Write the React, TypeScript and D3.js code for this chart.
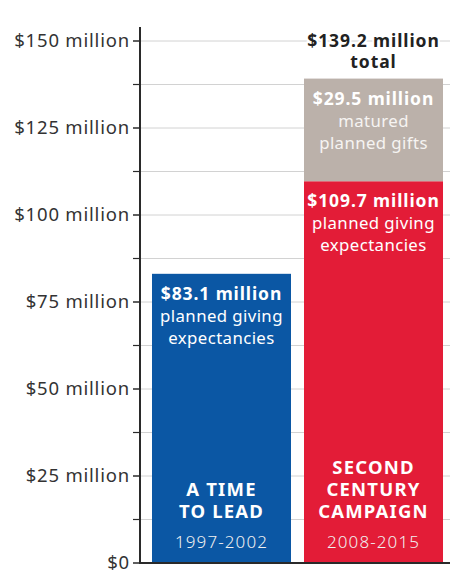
import * as d3 from 'd3';

// values as printed on the bars (millions of dollars)
const CAMPAIGNS = ['A TIME TO LEAD', 'SECOND CENTURY CAMPAIGN'];
const CAMPAIGN_LINES = [['A TIME', 'TO LEAD'], ['SECOND', 'CENTURY', 'CAMPAIGN']];
const YEARS = ['1997-2002', '2008-2015'];
const EXPECTANCIES = [83.1, 109.7];
const MATURED = [0, 29.5];
const TOTAL_LABEL = '$139.2 million';

const MAJOR_TICKS = [0, 25, 50, 75, 100, 125, 150];
const TICK_LABELS = ['$0', '$25 million', '$50 million', '$75 million', '$100 million', '$125 million', '$150 million'];
const MINOR_TICKS = [12.5, 37.5, 62.5, 87.5, 112.5, 137.5];

const EXP_COLORS = ['#0b57a4', '#e31c37'];
const MATURED_COLOR = '#bbb1aa';
const FONT = '"Noto Sans", Lato, sans-serif';

const W = 450;
const H = 572;
const AXIS_X = 140;
const BASE_Y = 563;

const fmt = (v: number) => `$${v.toFixed(1)} million`;

export default function App() {
  const y = d3.scaleLinear().domain([0, 150]).range([BASE_Y, 41]);
  const x = d3.scaleBand<string>()
    .domain(CAMPAIGNS)
    .range([AXIS_X - 1, 456])
    .paddingInner(0.0855)
    .paddingOuter(0.0855);

  const rows = CAMPAIGNS.map((c, i) => ({ campaign: c, expectancies: EXPECTANCIES[i], matured: MATURED[i] }));
  const series = d3.stack<any>().keys(['expectancies', 'matured'])(rows);

  const halo = { paintOrder: 'stroke' as const, stroke: 'white', strokeWidth: 4, strokeLinejoin: 'round' as const };
  const bold = { fontSize: 17.5, fontWeight: 700, letterSpacing: 0.9 };
  const body = { fontSize: 16.8, letterSpacing: 0.4 };

  return (
    <svg width={W} height={H} style={{ position: 'absolute', left: 0, top: 0, background: 'white', fontFamily: FONT }}>
      {/* gridlines */}
      {[...MAJOR_TICKS.slice(1), ...MINOR_TICKS].map(v => (
        <line key={v} x1={AXIS_X} x2={W} y1={y(v)} y2={y(v)} stroke="#d2d2d2" strokeWidth={1} />
      ))}

      {/* bars */}
      {series.map(s => s.map((d, i) => {
        const h = y(d[0]) - y(d[1]);
        if (h <= 0) return null;
        return (
          <rect
            key={`${s.key}-${i}`}
            x={x(CAMPAIGNS[i])}
            y={y(d[1])}
            width={x.bandwidth()}
            height={h}
            fill={s.key === 'matured' ? MATURED_COLOR : EXP_COLORS[i]}
          />
        );
      }))}

      {/* bar labels */}
      {CAMPAIGNS.map((c, i) => {
        const cx = (x(c) ?? 0) + x.bandwidth() / 2;
        const top = y(EXPECTANCIES[i]);
        const nameLines = CAMPAIGN_LINES[i];
        return (
          <g key={c} fill="white" textAnchor="middle">
            <text x={cx} y={top + 26} {...bold}>{fmt(EXPECTANCIES[i])}</text>
            <text x={cx} y={top + 48} {...body}>planned giving</text>
            <text x={cx} y={top + 70} {...body}>expectancies</text>
            {nameLines.map((l, j) => (
              <text key={l} x={cx} y={518 - 22 * (nameLines.length - 1 - j)} fontSize={18.5} fontWeight={700} letterSpacing={1.2}>{l}</text>
            ))}
            <text x={cx} y={548} fontSize={17} fontWeight={300} letterSpacing={1.1} fill="#f0f0f0">{YEARS[i]}</text>
          </g>
        );
      })}

      {/* matured segment + total */}
      {CAMPAIGNS.map((c, i) => {
        if (!MATURED[i]) return null;
        const cx = (x(c) ?? 0) + x.bandwidth() / 2;
        const top = y(EXPECTANCIES[i] + MATURED[i]);
        return (
          <g key={`m-${c}`} textAnchor="middle">
            <text x={cx} y={top + 26} {...bold} fill="white">{fmt(MATURED[i])}</text>
            <text x={cx} y={top + 48} {...body} fill="#f6f4f2">matured</text>
            <text x={cx} y={top + 70} {...body} fill="#f6f4f2">planned gifts</text>
            <text x={cx} y={top - 32} {...bold} fill="#222" style={halo}>{TOTAL_LABEL}</text>
            <text x={cx} y={top - 11} {...bold} fill="#222" style={halo}>total</text>
          </g>
        );
      })}

      {/* y axis */}
      <line x1={AXIS_X} x2={AXIS_X} y1={27} y2={BASE_Y} stroke="#2a2a2a" strokeWidth={2} />
      <line x1={AXIS_X - 1} x2={W} y1={BASE_Y} y2={BASE_Y} stroke="#2a2a2a" strokeWidth={2} />
      {MAJOR_TICKS.map((v, i) => (
        <g key={v} transform={`translate(0,${y(v)})`}>
          <line x1={AXIS_X - 7} x2={AXIS_X} stroke="#2a2a2a" strokeWidth={1.5} />
          <text x={AXIS_X - 10} dy="0.35em" textAnchor="end" fontSize={18.5} letterSpacing={0.8} fill="#333">{TICK_LABELS[i]}</text>
        </g>
      ))}
      {MINOR_TICKS.map(v => (
        <line key={v} x1={AXIS_X - 7} x2={AXIS_X} y1={y(v)} y2={y(v)} stroke="#2a2a2a" strokeWidth={1.2} />
      ))}
    </svg>
  );
}
